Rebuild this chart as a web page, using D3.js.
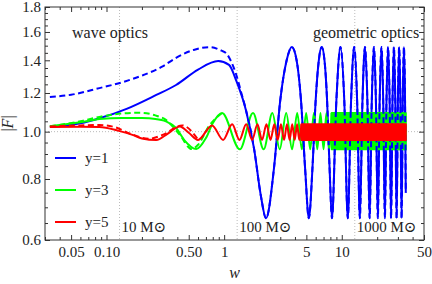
<!DOCTYPE html>
<html><head><meta charset="utf-8">
<script src="https://cdn.jsdelivr.net/npm/d3@7"></script>
<style>
body{margin:0;background:#fff}
svg text{font-family:"Liberation Serif","Times New Roman","DejaVu Serif",serif !important;fill:#222}
</style>
</head><body>
<svg id="c" width="432" height="284" font-family="Liberation Serif"></svg>
<script>
// ---- tick data ----
const xMajor = [0.05, 0.1, 0.5, 1, 5, 10, 50];
const xMajorLabels = ["0.05", "0.10", "0.50", "1", "5", "10", "50"];
const xMinor = [0.03,0.04,0.06,0.07,0.08,0.09,0.2,0.3,0.4,0.6,0.7,0.8,0.9,2,3,4,6,7,8,9,20,30,40];
const yMajor = [0.6, 0.8, 1.0, 1.2, 1.4, 1.6, 1.8];
const yMajorLabels = ["0.6", "0.8", "1.0", "1.2", "1.4", "1.6", "1.8"];
const yMinor = [0.65,0.7,0.75,0.85,0.9,0.95,1.05,1.1,1.15,1.25,1.3,1.35,1.45,1.5,1.55,1.65,1.7,1.75];
const gridW = [0.129, 1.29, 12.9];
const gridLabels = ["10 M\u2299", "100 M\u2299", "1000 M\u2299"];
const legendNames = ["y=1", "y=3", "y=5"];

// ---- y=1 (blue) ----
const blueSolidW = [0.033,0.06,0.087,0.15,0.265,0.39,0.6,0.89,1.1,1.27,1.53,1.8,2.05,2.27,
  2.65,3.0,3.4,3.76,4.13,4.5,4.88,5.25,5.63,6.0,6.38,6.75,7.13,7.5,7.88,8.25,
  9.0,9.75,10.5,11.25,12.0,12.75,13.5,14.25,15.0,15.75,16.5,17.25,18.0,18.75,19.5,20.25,
  21.0,21.75,22.5,23.25,24.0,24.75,25.5,26.25,27.0,27.75,28.5,29.25,30.0,30.75,31.5,32.25,
  33.0,33.75,34.5,35.0];
const blueSolidF = [1.022,1.04,1.065,1.115,1.189,1.246,1.34,1.395,1.37,1.27,1.108,0.92,0.74,0.665,
  0.84,1.16,1.40,1.49,1.40,1.16,0.84,0.665,0.84,1.16,1.40,1.49,1.40,1.16,0.84,0.665,
  1.16,1.49,1.16,0.665,1.16,1.49,1.16,0.665,1.16,1.49,1.16,0.665,1.16,1.49,1.16,0.665,
  1.16,1.49,1.16,0.665,1.16,1.49,1.16,0.665,1.16,1.49,1.16,0.665,1.16,1.49,1.16,0.665,
  1.16,1.49,1.16,0.75];
const blueDashW = [0.033,0.05,0.087,0.14,0.206,0.3,0.39,0.55,0.76,0.95,1.04,1.15,1.27,1.4,1.53];
const blueDashF = [1.177,1.19,1.228,1.265,1.306,1.36,1.416,1.47,1.49,1.465,1.448,1.39,1.306,1.2,1.11];

// ---- y=3 (green) ----
const greenSolidW = [0.033,0.06,0.087,0.135,0.2,0.26,0.32,0.39,0.46,0.58,0.7,0.8,0.96,
  1.36,1.76,2.17,2.57,2.97,3.37,3.78,4.18,4.58,4.98,5.39,5.79,6.19,6.59,7.0,7.4,7.8,8.2];
const greenSolidF = [1.026,1.045,1.061,1.067,1.066,1.062,1.05,1.018,0.96,0.921,0.97,1.04,1.092,
  0.92,1.092,0.92,1.092,0.92,1.092,0.92,1.092,0.92,1.092,0.92,1.092,0.92,1.092,0.92,1.092,0.92,1.092];
const greenDashW = [0.033,0.06,0.087,0.14,0.19,0.26,0.32,0.42,0.53,0.6,0.75,0.96];
const greenDashF = [1.026,1.05,1.072,1.09,1.093,1.08,1.057,0.985,0.921,0.94,1.03,1.092];
const greenBandW = [8.2, 35];
const greenBandLo = [0.92, 0.92];
const greenBandHi = [1.092, 1.092];

// ---- y=5 (red) ----
const redSolidW = [0.033,0.06,0.087,0.125,0.166,0.2,0.265,0.33,0.42,0.5,0.6,0.79,
  0.98,1.17,1.35,1.54,1.73,1.92,2.1,2.29,2.48,2.67,2.85,3.04,3.23,3.42,3.6,3.79,3.98,4.17,4.35,4.54];
const redSolidF = [1.022,1.023,1.022,1.005,0.985,0.968,0.961,0.99,1.025,0.995,0.962,1.03,
  0.962,1.035,0.962,1.035,0.962,1.035,0.962,1.035,0.962,1.035,0.962,1.035,0.962,1.035,0.962,1.035,0.962,1.035,0.962,1.035];
const redDashW = [0.033,0.06,0.087,0.12,0.16,0.23,0.3,0.44,0.6];
const redDashF = [1.025,1.03,1.032,1.02,0.99,0.967,0.985,1.03,0.963];
const redBandW = [4.54, 35];
const redBandLo = [0.962, 0.962];
const redBandHi = [1.035, 1.035];

// ---- layout ----
const L = 45, R = 424, T = 7, B = 240;
const svg = d3.select("#c");
svg.append("rect").attr("width",432).attr("height",284).attr("fill","#fff");
const x = d3.scaleLog().domain([0.03, 50]).range([L, R]);
const y = d3.scaleLog().domain([0.6, 1.8]).range([B, T]);

// grid lines
const grid = svg.append("g").attr("stroke","#bbb").attr("stroke-width",1).attr("stroke-dasharray","1,2");
grid.selectAll("line.v").data(gridW).join("line")
  .attr("x1",d=>x(d)).attr("x2",d=>x(d)).attr("y1",T).attr("y2",B);
grid.append("line").attr("x1",L).attr("x2",R).attr("y1",y(1)).attr("y2",y(1));

svg.append("g").selectAll("text").data(gridW).join("text")
  .attr("x",d=>x(d)+2).attr("y",232).attr("font-size",15)
  .text((d,i)=>gridLabels[i]);

// lines
const line = d3.line().x(d=>x(d[0])).y(d=>y(d[1])).curve(d3.curveMonotoneX);
const area = d3.area().x(d=>x(d[0])).y0(d=>y(d[1])).y1(d=>y(d[2]));
const plot = svg.append("g").attr("fill","none").attr("stroke-width",2)
  .attr("stroke-linejoin","round");

const blue = "#0000ff", green = "#00ff00", red = "#ff0000";
function draw(ws, fs, color, dash){
  const p = plot.append("path").attr("d", line(d3.zip(ws, fs))).attr("stroke", color);
  if (dash) p.attr("stroke-dasharray", "6,3.5");
}
function band(ws, lo, hi, color){
  plot.append("path").attr("d", area(d3.zip(ws, lo, hi)))
    .attr("fill", color).attr("stroke", color).attr("stroke-width", 2);
}
const iJoin = blueSolidW.indexOf(1.8);
draw(blueSolidW, blueSolidF, blue, false);
draw(greenSolidW, greenSolidF, green, false);
band(greenBandW, greenBandLo, greenBandHi, green);
draw(greenDashW, greenDashF, green, true);
draw(blueDashW.concat(blueSolidW.slice(iJoin)), blueDashF.concat(blueSolidF.slice(iJoin)), blue, true);
draw(redSolidW, redSolidF, red, false);
band(redBandW, redBandLo, redBandHi, red);
draw(redDashW, redDashF, red, true);

// axes (frame ticks inward)
function styleAxis(g){
  g.attr("font-family","Liberation Serif");
  g.select(".domain").remove();
  g.selectAll(".tick line").attr("stroke","#333");
  g.selectAll(".tick text").attr("font-size",15).attr("fill","#222");
}
svg.append("g").attr("transform",`translate(0,${B})`)
  .call(d3.axisBottom(x).tickValues(xMajor).tickFormat((d,i)=>xMajorLabels[i]).tickSize(-5).tickPadding(6)).call(styleAxis);
svg.append("g").attr("transform",`translate(0,${B})`)
  .call(d3.axisBottom(x).tickValues(xMinor).tickFormat("").tickSize(-3)).call(styleAxis);
svg.append("g").attr("transform",`translate(0,${T})`)
  .call(d3.axisTop(x).tickValues(xMajor).tickFormat("").tickSize(-5)).call(styleAxis);
svg.append("g").attr("transform",`translate(0,${T})`)
  .call(d3.axisTop(x).tickValues(xMinor).tickFormat("").tickSize(-3)).call(styleAxis);
svg.append("g").attr("transform",`translate(${L},0)`)
  .call(d3.axisLeft(y).tickValues(yMajor).tickFormat((d,i)=>yMajorLabels[i]).tickSize(-5).tickPadding(4)).call(styleAxis);
svg.append("g").attr("transform",`translate(${L},0)`)
  .call(d3.axisLeft(y).tickValues(yMinor).tickFormat("").tickSize(-3)).call(styleAxis);
svg.append("g").attr("transform",`translate(${R},0)`)
  .call(d3.axisRight(y).tickValues(yMajor).tickFormat("").tickSize(-5)).call(styleAxis);
svg.append("g").attr("transform",`translate(${R},0)`)
  .call(d3.axisRight(y).tickValues(yMinor).tickFormat("").tickSize(-3)).call(styleAxis);

svg.append("rect").attr("x",L).attr("y",T).attr("width",R-L).attr("height",B-T)
  .attr("fill","none").attr("stroke","#333").attr("stroke-width",1);

// labels
svg.append("text").attr("x",72).attr("y",38).attr("font-size",16).text("wave optics");
svg.append("text").attr("x",313).attr("y",38).attr("font-size",16).text("geometric optics");
svg.append("text").attr("x",(L+R)/2).attr("y",278).attr("text-anchor","middle")
  .attr("font-size",16).attr("font-style","italic").text("w");
svg.append("text").attr("transform",`translate(13,${(T+B)/2}) rotate(-90)`)
  .attr("text-anchor","middle").attr("font-size",16)
  .html('|<tspan font-style="italic">F</tspan>|');

// legend
const legColors = [blue, green, red];
const leg = svg.append("g");
legendNames.forEach((n,i)=>{
  const yy = 158 + i*32;
  leg.append("line").attr("x1",55).attr("x2",76).attr("y1",yy).attr("y2",yy)
    .attr("stroke",legColors[i]).attr("stroke-width",2);
  leg.append("text").attr("x",85).attr("y",yy+5).attr("font-size",15).text(n);
});
</script>
</body></html>
